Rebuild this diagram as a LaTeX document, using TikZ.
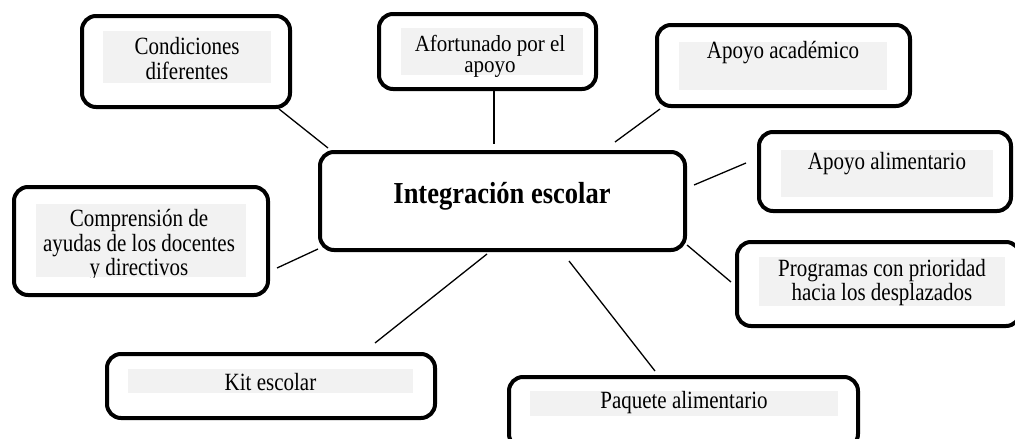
\documentclass[tikz,border=0pt]{standalone}
\usepackage{fontspec}
\setmainfont{Liberation Serif}
\usepackage{graphicx}
\usepackage{tikz}
\usetikzlibrary{positioning}
\colorlet{boxgrey}{gray!10}
% text is printed a little taller than wide in the original
\newcommand{\tallbox}[2][1.18]{\scalebox{1}[#1]{\begin{tabular}{@{}c@{}}#2\end{tabular}}}

\begin{document}
\begin{tikzpicture}[x=1pt,y=-1pt,
  box/.style={draw,line width=4pt,rounded corners=14pt,inner sep=0pt},
  lbl/.style={inner sep=0pt,font=\fontsize{21}{19.5}\selectfont},
  link/.style={line width=1.3pt}]

\useasboundingbox (0,0) rectangle (1015,439);

% Central box
\node[box,minimum width=365pt,minimum height=98pt] (main) at (502.5,201) {};
\node[inner sep=0pt,font=\fontsize{26.5}{26}\selectfont\bfseries] (maintxt) at (502,197.3) {\tallbox[1.15]{Integración escolar}};

% Outer boxes
\node[box,minimum width=208pt,minimum height=91pt] (cond) at (186,61.5) {};
\node[box,minimum width=217pt,minimum height=75pt] (afort) at (487.5,51.5) {};
\node[box,minimum width=253pt,minimum height=81pt] (acad) at (783.5,65.5) {};
\node[box,minimum width=252pt,minimum height=79pt] (alim) at (885,171.5) {};
\node[box,minimum width=254pt,minimum height=108pt] (compr) at (141,241) {};
\node[box,minimum width=283pt,minimum height=84pt] (prog) at (878.5,284) {};
\node[box,minimum width=328pt,minimum height=64pt] (kit) at (271,386) {};
\node[box,minimum width=349pt,minimum height=71pt] (paq) at (683.5,412.5) {};

% Grey text backgrounds
\fill[boxgrey] (103,31) rectangle (271,83);
\fill[boxgrey] (401,28) rectangle (583,75);
\fill[boxgrey] (679,42) rectangle (887,90);
\fill[boxgrey] (781,150) rectangle (993,197);
\fill[boxgrey] (36,204) rectangle (246,277);
\fill[boxgrey] (759,257) rectangle (1005,306);
\fill[boxgrey] (128,369) rectangle (413,393);
\fill[boxgrey] (530,391) rectangle (838,416);

% Labels
\node[lbl] (condtxt) at (187,62) {\tallbox{Condiciones\\diferentes}};
\node[lbl] (aforttxt) at (490,56.9) {\tallbox[1.1]{Afortunado por el\\apoyo}};
\node[lbl] (acadtxt) at (783,53.4) {\tallbox{Apoyo académico}};
\node[lbl] (alimtxt) at (887,164.4) {\tallbox{Apoyo alimentario}};
\begin{scope}
  \clip (36,204) rectangle (246,277);
  \node[lbl,font=\fontsize{21}{20.6}\selectfont] (comprtxt) at (139,246.5) {\tallbox{Comprensión de\\ayudas de los docentes\\y directivos}};
\end{scope}
\node[lbl] (progtxt) at (882,283.7) {\tallbox{Programas con prioridad\\hacia los desplazados}};
\node[lbl] (kittxt) at (270.5,385.4) {\tallbox{Kit escolar}};
\node[lbl] (paqtxt) at (684,403.4) {\tallbox{Paquete alimentario}};

% Connectors
\draw[link] ([xshift=-13pt]cond.south east) -- ([xshift=10pt,yshift=2pt]main.north west);
\draw[link] ([xshift=6.5pt]afort.south) -- ([xshift=-8.5pt,yshift=6pt]main.north);
\draw[link] ([xshift=5pt,yshift=-1pt]acad.south west) -- ([xshift=-72pt,yshift=8pt]main.north east);
\draw[link] ([xshift=-11pt,yshift=8.5pt]alim.west) -- ([xshift=7pt,yshift=16pt]main.east);
\draw[link] ([xshift=7pt,yshift=-27pt]compr.east) -- ([yshift=3pt]main.south west);
\draw[link] ([xshift=-4pt,yshift=2pt]prog.west) -- ([yshift=7pt]main.south east);
\draw[link] ([xshift=104pt,yshift=9pt]kit.north) -- ([xshift=-15.5pt,yshift=-2pt]main.south);
\draw[link] ([xshift=-28.5pt,yshift=4pt]paq.north) -- ([xshift=66.5pt,yshift=-9pt]main.south);

\end{tikzpicture}
\end{document}
